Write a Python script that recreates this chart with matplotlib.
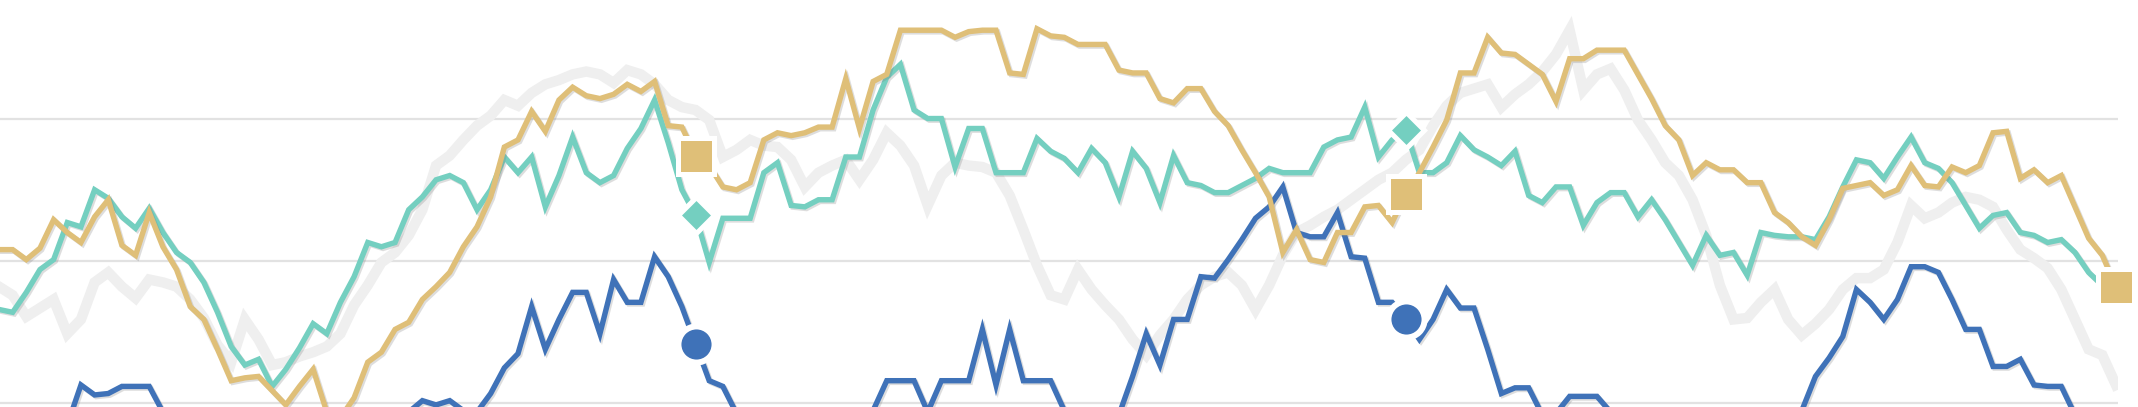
import numpy as np
import matplotlib
matplotlib.use("Agg")
import matplotlib.pyplot as plt
import matplotlib.patheffects as pe

# four series, one value per period (gridlines sit at 0, 100, 200)
grey = [82, 76, 61, 67, 73, 49, 59, 85, 92, 82,
        74, 87, 85, 82, 73, 60, 41, 29, 59, 45,
        27, 29, 33, 36, 40, 49, 69, 83, 99, 106,
        118, 136, 167, 174, 185, 195, 202, 213, 209, 218,
        224, 227, 231, 233, 231, 225, 234, 231, 224, 213,
        208, 206, 199, 173, 178, 185, 181, 180, 171, 152,
        162, 167, 171, 157, 171, 190, 181, 167, 139, 160,
        169, 167, 166, 162, 146, 122, 97, 76, 73, 94,
        80, 69, 59, 45, 34, 48, 59, 73, 83, 89,
        92, 83, 66, 83, 104, 120, 125, 131, 136, 143,
        150, 157, 162, 171, 178, 195, 209, 218, 221, 224,
        208, 217, 224, 233, 245, 262, 220, 231, 235, 220,
        199, 185, 169, 160, 143, 118, 83, 59, 60, 71,
        80, 59, 48, 56, 66, 80, 88, 88, 94, 113,
        139, 130, 134, 141, 145, 143, 138, 122, 108, 102,
        95, 80, 59, 38, 34, 13]

blue = [-26, -22, -19, -15, -12, -15, 13, 6, 7, 12,
        12, 12, -6, -15, -22, -26, -29, -26, -22, -26,
        -29, -26, -20, -17, -15, -12, -10, -13, -15, -12,
        -6, 2, -1, 2, -5, -6, 7, 25, 35, 68,
        38, 59, 78, 78, 49, 87, 71, 71, 103, 89,
        68, 42, 16, 12, -7, -12, -17, -20, -19, -22,
        -20, -17, -15, -10, -5, 16, 16, 16, -6, 16,
        16, 16, 52, 13, 52, 16, 16, 16, -5, -12,
        -15, -13, -8, 19, 49, 27, 59, 59, 89, 88,
        101, 115, 130, 138, 152, 120, 117, 117, 134, 103,
        102, 71, 71, 59, 45, 59, 80, 67, 67, 38,
        7, 11, 11, -8, -7, 5, 5, 5, -6, -12,
        -15, -19, -17, -20, -22, -19, -17, -15, -17, -15,
        -13, -10, -5, 19, 32, 47, 80, 71, 59, 73,
        96, 96, 92, 73, 52, 52, 26, 26, 31, 13,
        12, 12, -8, -15, -19, -22]

teal = [66, 64, 78, 94, 101, 127, 124, 150, 144, 131,
        123, 137, 120, 106, 99, 85, 64, 40, 27, 31,
        12, 24, 39, 56, 49, 71, 89, 113, 110, 113,
        136, 145, 157, 160, 155, 136, 150, 173, 162, 173,
        138, 160, 187, 162, 155, 160, 179, 193, 213, 183,
        150, 132, 99, 130, 130, 130, 162, 169, 139, 138,
        143, 143, 173, 173, 206, 229, 238, 206, 200, 200,
        166, 193, 193, 162, 162, 162, 186, 177, 172, 162,
        179, 169, 145, 177, 165, 141, 174, 155, 153, 148,
        148, 153, 158, 165, 162, 162, 162, 180, 185, 187,
        208, 173, 185, 192, 162, 162, 169, 188, 178, 173,
        167, 177, 146, 141, 152, 152, 125, 141, 148, 148,
        131, 143, 129, 113, 97, 118, 104, 106, 90, 120,
        118, 117, 117, 115, 131, 152, 171, 169, 158, 173,
        187, 169, 165, 155, 139, 123, 132, 134, 120, 118,
        113, 115, 106, 92, 83, 78]

gold = [108, 108, 101, 109, 129, 120, 113, 131, 143, 111,
        104, 134, 110, 94, 68, 59, 38, 16, 18, 19,
        9, -1, 12, 24, -6, -10, 4, 29, 36, 52,
        57, 73, 82, 92, 110, 124, 145, 180, 185, 205,
        191, 213, 222, 216, 214, 217, 224, 219, 226, 195,
        194, 174, 167, 152, 150, 155, 185, 190, 188, 190,
        194, 194, 228, 193, 226, 231, 262, 262, 262, 262,
        257, 261, 262, 262, 232, 231, 263, 258, 257, 252,
        252, 252, 234, 232, 232, 214, 211, 221, 221, 205,
        195, 178, 162, 145, 106, 122, 101, 99, 120, 120,
        138, 139, 127, 147, 162, 180, 199, 232, 232, 257,
        246, 245, 238, 231, 212, 242, 242, 248, 248, 248,
        231, 214, 195, 185, 160, 169, 164, 164, 155, 155,
        134, 127, 117, 111, 129, 151, 153, 155, 146, 150,
        167, 153, 152, 166, 162, 167, 190, 191, 158, 164,
        155, 160, 138, 116, 104, 82]

# periods that carry a highlighted marker
blueMarks = [51, 103]
tealMarks = [51, 103]
goldMarks = [51, 103, 155]

gridValues = [0, 100, 200]

colors = {"grey": "#efefef", "blue": "#3f72b8", "teal": "#74cfc0", "gold": "#dfbf78"}


def drawChart():
    fig = plt.figure(figsize=(21.38, 4.07), dpi=100)
    ax = fig.add_axes([0, 0, 2118 / 2138, 1])

    x = np.arange(len(gold))

    for v in gridValues:
        ax.axhline(v, color="#e2e2e2", linewidth=1.6, zorder=0)

    shadow = [pe.SimpleLineShadow(offset=(1.2, -1.2), shadow_color="#7a7a7a", alpha=0.25), pe.Normal()]

    ax.plot(x, grey, color=colors["grey"], linewidth=7.5, solid_joinstyle="miter", zorder=1)
    ax.plot(x, blue, color=colors["blue"], linewidth=3.9, solid_joinstyle="miter", path_effects=shadow, zorder=2)
    ax.plot(x, teal, color=colors["teal"], linewidth=3.9, solid_joinstyle="miter", path_effects=shadow, zorder=3)
    ax.plot(x, gold, color=colors["gold"], linewidth=3.9, solid_joinstyle="miter", path_effects=shadow, zorder=4)

    b = np.array(blue)
    t = np.array(teal)
    g = np.array(gold)
    ax.plot(x[blueMarks], b[blueMarks], linestyle="none", marker="o", markersize=26,
            markerfacecolor=colors["blue"], markeredgecolor="white", markeredgewidth=4.3, zorder=6, clip_on=False)
    ax.plot(x[tealMarks], t[tealMarks], linestyle="none", marker="D", markersize=18.5,
            markerfacecolor=colors["teal"], markeredgecolor="white", markeredgewidth=3.6, zorder=6, clip_on=False)
    ax.plot(x[goldMarks], g[goldMarks], linestyle="none", marker="s", markersize=26,
            markerfacecolor=colors["gold"], markeredgecolor="white", markeredgewidth=3.6, zorder=7, clip_on=False)

    ax.set_xlim(0.073, 155.15)
    ax.set_ylim(-2.46, 283.2)
    ax.axis("off")

    fig.savefig("out.png", dpi=100, facecolor="white")


if __name__ == "__main__":
    drawChart()
